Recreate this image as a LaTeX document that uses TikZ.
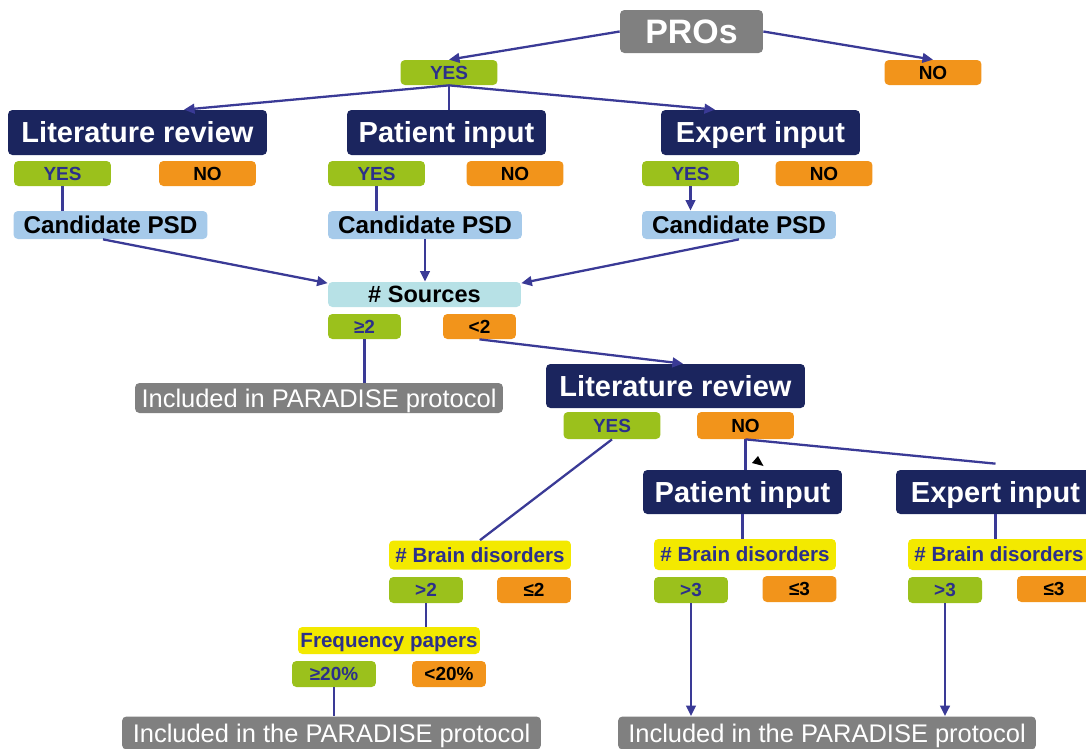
\documentclass[tikz,border=0pt]{standalone}
\usepackage{fontspec}
\setmainfont{Liberation Sans}
\usetikzlibrary{arrows.meta}

\definecolor{navy}{RGB}{27,37,94}
\definecolor{proGray}{RGB}{128,128,128}
\definecolor{yesGreen}{RGB}{155,193,28}
\definecolor{noOrange}{RGB}{242,148,27}
\definecolor{psdBlue}{RGB}{166,202,234}
\definecolor{srcCyan}{RGB}{183,225,230}
\definecolor{brainYellow}{RGB}{243,233,0}
\definecolor{lineBlue}{RGB}{58,58,150}
\definecolor{txtBlue}{RGB}{44,48,138}

\begin{document}
\begin{tikzpicture}[
    x=0.02cm, y=-0.02cm,
    base/.style={rectangle, rounded corners=2.5pt, inner sep=0pt, align=center, text depth=0pt},
    pros/.style={base, fill=proGray, text=white, minimum width=2.86cm, minimum height=0.86cm,
                 font=\fontsize{19.3}{22}\selectfont\bfseries, text height=13.9pt},
    head/.style={base, fill=navy, text=white, minimum width=3.98cm, minimum height=0.9cm,
                 font=\fontsize{16.5}{19}\selectfont\bfseries, text height=11.9pt},
    ans/.style={base, minimum width=1.94cm, minimum height=0.5cm,
                font=\fontsize{10.8}{12}\selectfont\bfseries, text height=7.8pt},
    yesbox/.style={ans, fill=yesGreen, text=txtBlue},
    nobox/.style={ans, fill=noOrange, text=black},
    psd/.style={base, fill=psdBlue, minimum width=3.88cm, minimum height=0.56cm,
                font=\fontsize{13.8}{16}\selectfont\bfseries, text height=9.9pt},
    src/.style={base, fill=srcCyan, minimum width=3.86cm, minimum height=0.5cm,
                font=\fontsize{13.4}{16}\selectfont\bfseries, text height=9.6pt},
    incl/.style={base, fill=proGray, text=white, minimum height=0.6cm,
                 font=\fontsize{14.5}{17}\selectfont, text height=10.4pt},
    brain/.style={base, fill=brainYellow, text=txtBlue, minimum width=3.64cm, minimum height=0.58cm,
                  font=\fontsize{11.7}{14}\selectfont\bfseries, text height=8.4pt},
    arrow/.style={-{Triangle[length=6pt, width=5.5pt]}, line width=1.3pt, draw=lineBlue},
    link/.style={line width=1.3pt, draw=lineBlue}
]
\clip (0,0) rectangle (1086,748);

\node[pros] (pros) at (691.5,31.5) {PROs};
\node[yesbox] (yes0) at (449,72.5) {YES};
\node[nobox] (no0) at (933,72.5) {NO};

\node[head, minimum width=5.18cm] (litA) at (137.5,132.5) {Literature review};
\node[head] (patA) at (446.5,132.5) {Patient input};
\node[head] (expA) at (760.5,132.5) {Expert input};

\node[yesbox] (yesL) at (62.5,173.5) {YES};
\node[nobox] (noL) at (207.5,173.5) {NO};
\node[yesbox] (yesP) at (376.5,173.5) {YES};
\node[nobox] (noP) at (515,173.5) {NO};
\node[yesbox] (yesE) at (690.5,173.5) {YES};
\node[nobox] (noE) at (824,173.5) {NO};

\node[psd] (psdL) at (110.5,225) {Candidate PSD};
\node[psd] (psdP) at (425,225) {Candidate PSD};
\node[psd] (psdE) at (739,225) {Candidate PSD};

\node[src] (src) at (424.5,294.5) {\# Sources};
\node[yesbox, minimum width=1.46cm] (ge2) at (364.5,326.5) {≥2};
\node[nobox, minimum width=1.46cm] (lt2) at (479.5,326.5) {<2};
\node[incl, minimum width=7.36cm] (inclA) at (319,398) {Included in PARADISE protocol};

\node[head, minimum width=5.18cm, minimum height=0.88cm] (litB) at (675.5,386) {Literature review};
\node[yesbox, minimum height=0.54cm] (yesB) at (612,425.5) {YES};
\node[nobox, minimum height=0.54cm] (noB) at (745.5,425.5) {NO};
\node[head, minimum height=0.88cm] (patB) at (742.5,492) {Patient input};
\node[head, minimum height=0.88cm] (expB) at (995.5,492) {Expert input};

\node[brain] (brainY) at (480,555) {\# Brain disorders};
\node[yesbox, minimum width=1.48cm, minimum height=0.52cm] (gtY) at (426,590) {>2};
\node[nobox, minimum width=1.48cm, minimum height=0.52cm] (leY) at (534,590) {≤2};
\node[brain, minimum height=0.54cm] (freq) at (389,640.5) {Frequency papers};
\node[yesbox, minimum width=1.68cm, minimum height=0.52cm] (ge20) at (334,674) {≥20\%};
\node[nobox, minimum width=1.48cm, minimum height=0.52cm] (lt20) at (449,674) {<20\%};
\node[incl, minimum width=8.38cm, minimum height=0.66cm] (inclB) at (331.5,733) {Included in the PARADISE protocol};

\node[brain, minimum height=0.62cm] (brainP) at (745,554.5) {\# Brain disorders};
\node[yesbox, minimum width=1.48cm, minimum height=0.52cm] (gtP) at (691,590) {>3};
\node[nobox, minimum width=1.48cm, minimum height=0.52cm] (leP) at (799.5,589) {≤3};
\node[brain, minimum height=0.62cm] (brainE) at (999,554.5) {\# Brain disorders};
\node[yesbox, minimum width=1.48cm, minimum height=0.52cm] (gtE) at (945,590) {>3};
\node[nobox, minimum width=1.48cm, minimum height=0.52cm] (leE) at (1054,589) {≤3};
\node[incl, minimum width=8.36cm, minimum height=0.66cm] (inclC) at (827,733) {Included in the PARADISE protocol};

\draw[arrow] (pros.west) -- (yes0.north);
\draw[arrow] (pros.east) -- (no0.north);
\draw[link] (yes0.south) -- (yes0.south |- patA.north);
\draw[arrow] (yes0.south) -- ([xshift=0.93cm]litA.north);
\draw[arrow] (yes0.south) -- ([xshift=-0.91cm]expA.north);

\draw[link] (yesL.south) -- (yesL.south |- psdL.north);
\draw[link] (yesP.south) -- (yesP.south |- psdP.north);
\draw[arrow] (yesE.south) -- (yesE.south |- psdE.north);

\draw[arrow] ([xshift=-0.15cm]psdL.south) -- ([yshift=-0.03cm]src.north west);
\draw[arrow] (psdP.south) -- (psdP.south |- src.north);
\draw[arrow] (psdE.south) -- ([yshift=-0.03cm]src.north east);
\draw[link] (ge2.south) -- (ge2.south |- inclA.north);
\draw[arrow] (lt2.south) -- ([xshift=0.15cm]litB.north);

\draw[link] (yesB.south) -- (brainY.north);
\draw[link] (noB.south) -- (noB.south |- patB.north);
\draw[link] (noB.south) -- ([yshift=0.12cm]expB.north);
\fill (758,456) -- (752,463) -- (763.5,466) -- cycle;

\draw[link] (patB.south) -- (patB.south |- brainP.north);
\draw[link] (expB.south) -- (expB.south |- brainE.north);
\draw[link] (gtY.south) -- (gtY.south |- freq.north);
\draw[link] (ge20.south) -- (ge20.south |- inclB.north);
\draw[arrow] (gtP.south) -- (gtP.south |- inclC.north);
\draw[arrow] (gtE.south) -- (gtE.south |- inclC.north);
\end{tikzpicture}
\end{document}
